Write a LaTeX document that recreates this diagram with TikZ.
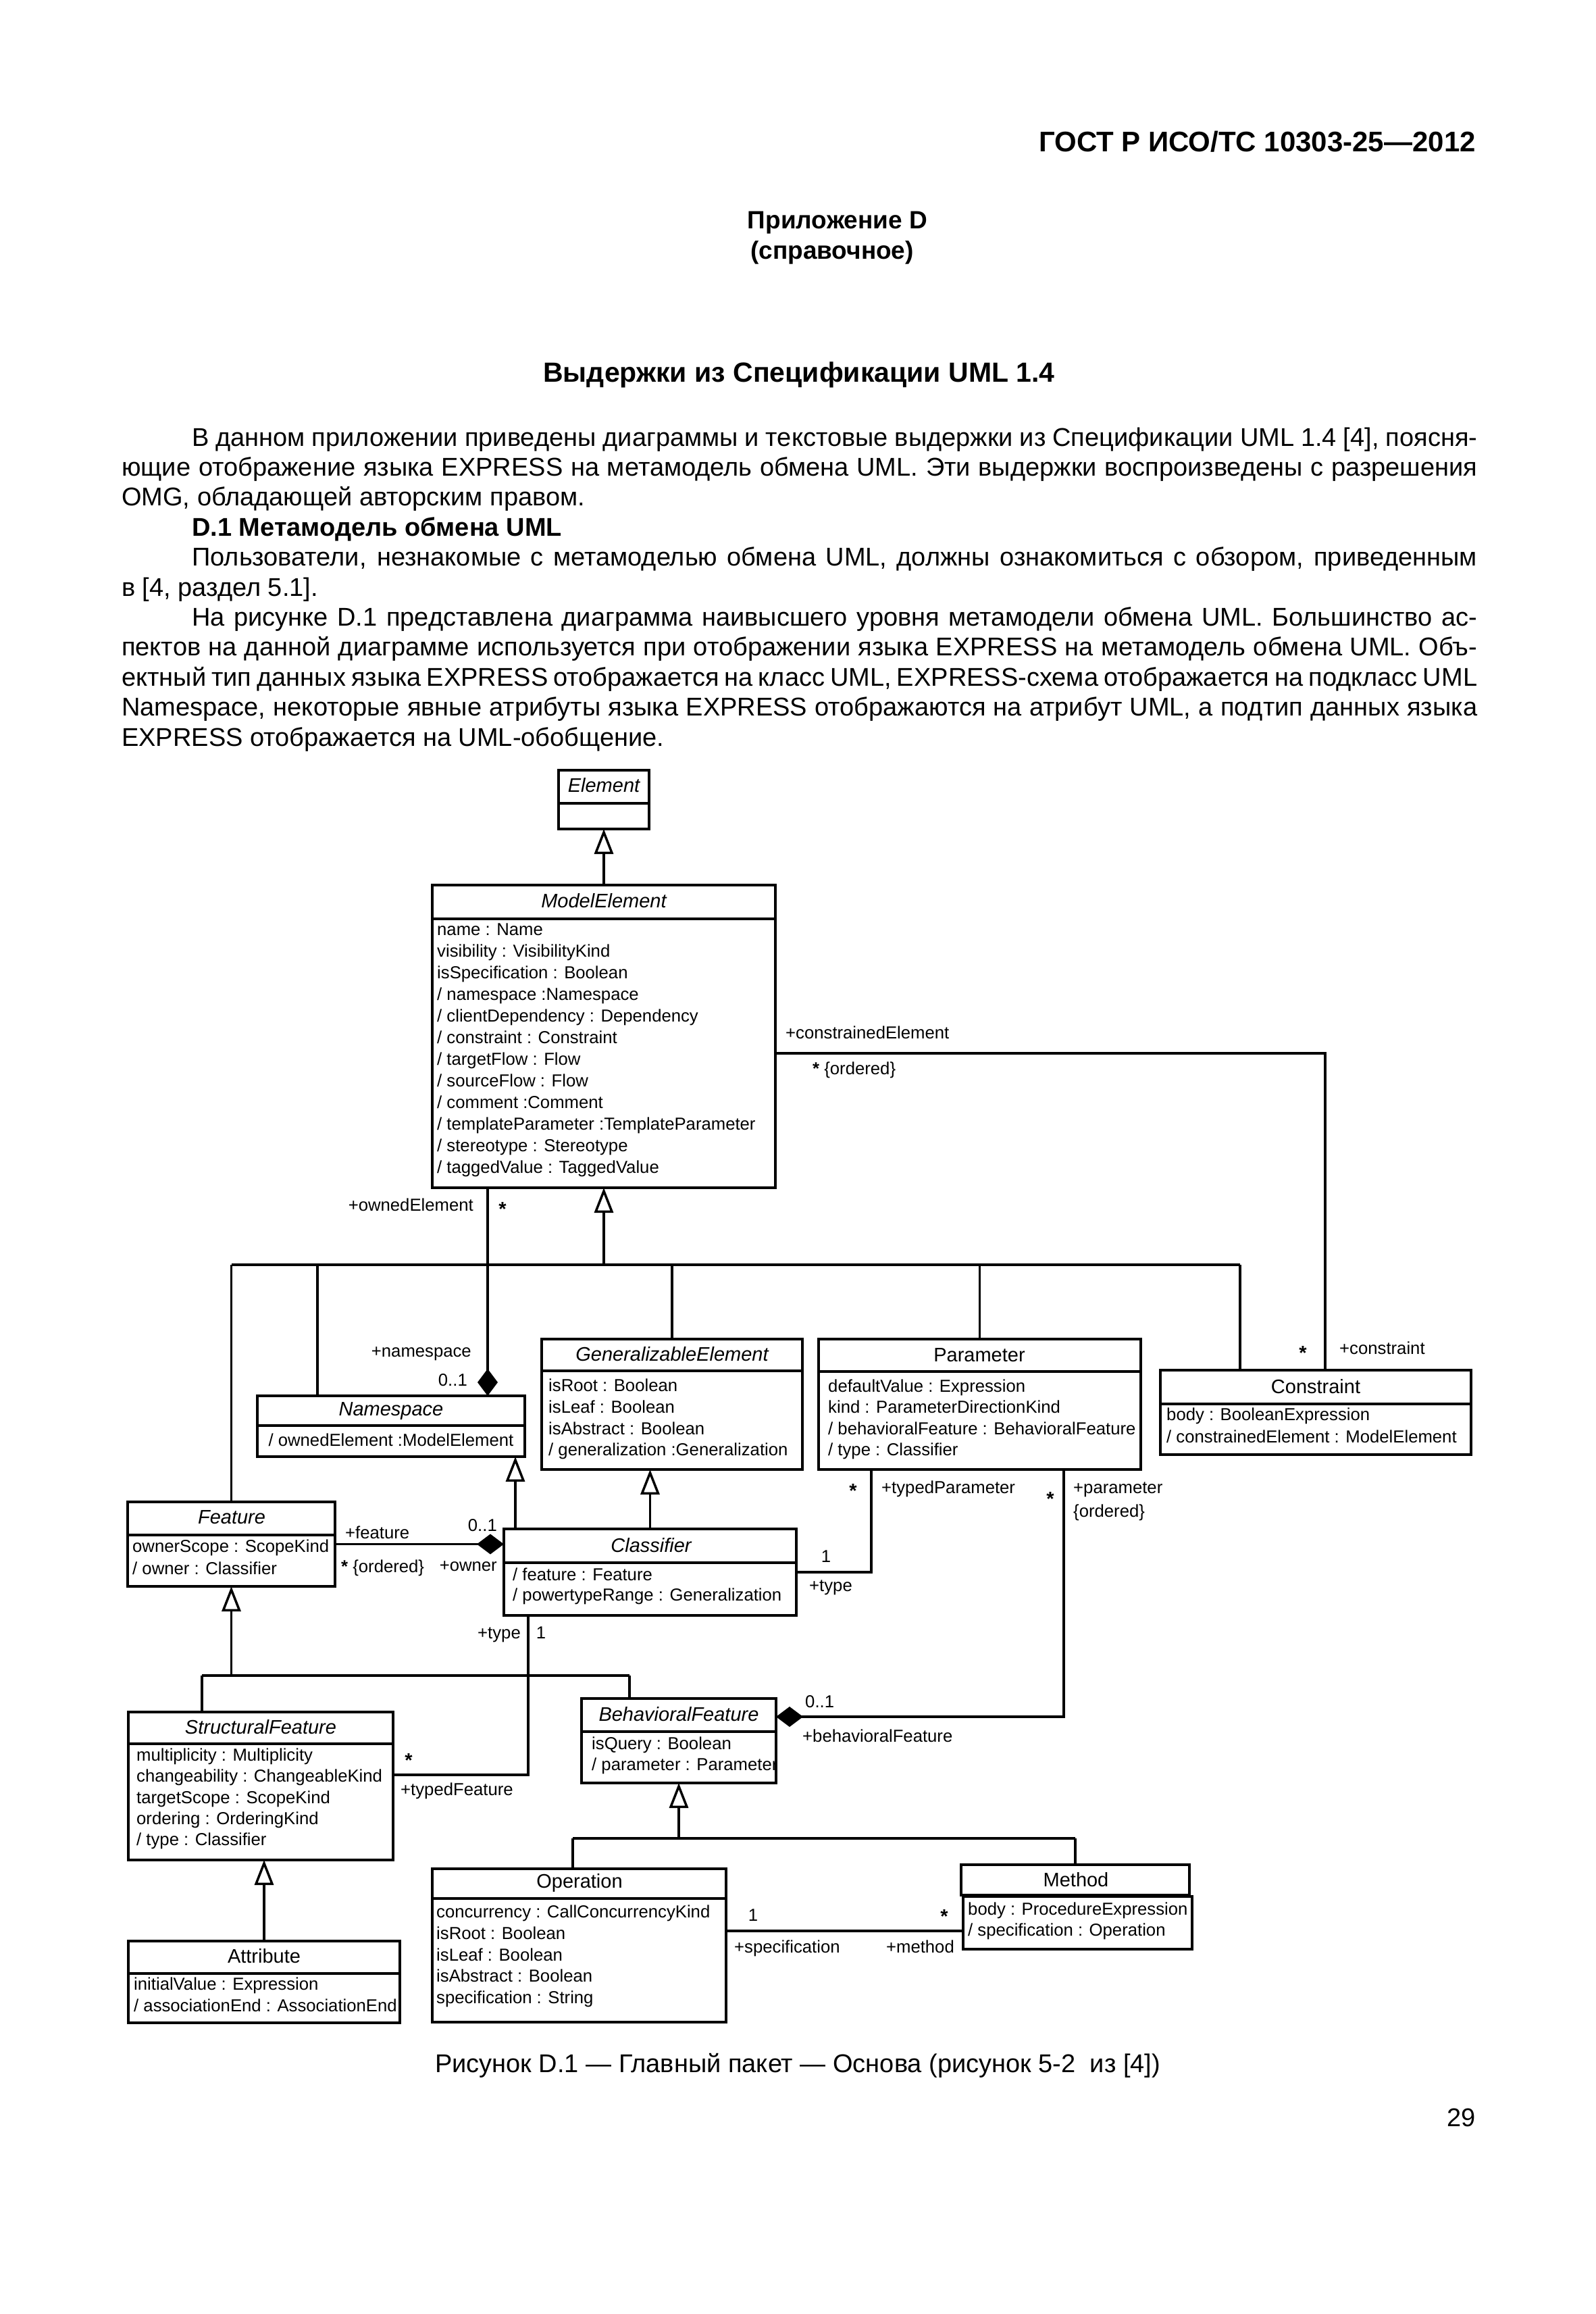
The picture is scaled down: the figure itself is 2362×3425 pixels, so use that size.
\documentclass[tikz,border=0pt]{standalone}
\usepackage{fontspec}
\setmainfont{Liberation Sans}
\usetikzlibrary{arrows.meta,calc}
\newcommand\myhdr{\fontsize{42}{50}\selectfont\bfseries}
\newcommand\myapp{\fontsize{37}{44}\selectfont\bfseries}
\newcommand\mytitle{\fontsize{41}{48}\selectfont\bfseries}
\newcommand\mybody{\fontsize{38}{44}\selectfont}
\newcommand\myattr{\fontsize{25.7}{30}\selectfont}
\newcommand\mystar{\fontsize{29}{30}\selectfont\bfseries}
\newcommand\mycls{\fontsize{29}{34}\selectfont}
\newcommand\myacls{\fontsize{29}{34}\selectfont\itshape}
\newcommand\umlbox[6]{%
  \node[umlrect,minimum width={(#4-#2)*1pt},minimum height={(#5-#3)*1pt}] (#1) at (#2,#3) {};%
  \draw[line width=4pt] (#2,#6) -- (#4,#6);}
\newcommand\attrlines[5]{%
  \foreach \t [count=\i] in {#5} {\node[attr] (#1\i) at (#2,{#3+(\i-1)*#4}) {\t};}}
\begin{document}
\begin{tikzpicture}[x=1pt,y=-1pt,
  umlrect/.style={draw,line width=4pt,inner sep=0pt,outer sep=0pt,anchor=north west},
  conn/.style={line width=3.5pt},
  gen/.style={conn,-{Triangle[open,length=37pt,width=28pt]}},
  comp/.style={conn,-{Diamond[length=40pt,width=30pt]}},
  attr/.style={anchor=mid west,inner sep=0pt,font=\myattr,yshift=-5pt},
  cls/.style={anchor=mid,inner sep=0pt,font=\mycls,yshift=-5pt},
  acls/.style={anchor=mid,inner sep=0pt,font=\myacls,yshift=-5pt},
  lbl/.style={inner sep=0pt,font=\myattr,yshift=-4pt},
  star/.style={inner sep=0pt,font=\mystar,anchor=base,yshift=1pt},
  bodyl/.style={anchor=base west,inner sep=0pt,font=\mybody}]
\useasboundingbox (0,0) rectangle (2362,3425);
\fill[white] (0,0) rectangle (2362,3425);

% ---------- page text ----------
\node[anchor=base east,inner sep=0pt,font=\myhdr] (hdr) at (2185,225) {ГОСТ Р ИСО/ТС 10303-25—2012};
\node[anchor=base,inner sep=0pt,font=\myapp] (app) at (1240,338) {Приложение D};
\node[anchor=base,inner sep=0pt,font=\myapp] (refn) at (1232,383) {(справочное)};
\node[anchor=base,inner sep=0pt,font=\mytitle] (ttl) at (1183,565) {Выдержки из Спецификации UML 1.4};

\node[bodyl] (b1) at (284,660) {\makebox[1903pt][s]{В данном приложении приведены диаграммы и текстовые выдержки из Спецификации UML 1.4 [4], поясня-}};
\node[bodyl] (b2) at (180,704.4) {\makebox[2007pt][s]{ющие отображение языка EXPRESS на метамодель обмена UML. Эти выдержки воспроизведены с разрешения}};
\node[bodyl] (b3) at (180,748.8) {OMG, обладающей авторским правом.};
\node[bodyl,font=\mybody\bfseries] (b4) at (284,793.2) {D.1 Метамодель обмена UML};
\node[bodyl] (b5) at (284,837.6) {\makebox[1903pt][s]{Пользователи, незнакомые с метамоделью обмена UML, должны ознакомиться с обзором, приведенным}};
\node[bodyl] (b6) at (180,882) {в [4, раздел 5.1].};
\node[bodyl] (b7) at (284,926.4) {\makebox[1903pt][s]{На рисунке D.1 представлена диаграмма наивысшего уровня метамодели обмена UML. Большинство ас-}};
\node[bodyl] (b8) at (180,970.8) {\makebox[2007pt][s]{пектов на данной диаграмме используется при отображении языка EXPRESS на метамодель обмена UML. Объ-}};
\node[bodyl] (b9) at (180,1015.2) {\makebox[2007pt][s]{ектный тип данных языка EXPRESS отображается на класс UML, EXPRESS-схема отображается на подкласс UML}};
\node[bodyl] (b10) at (180,1059.6) {\makebox[2007pt][s]{Namespace, некоторые явные атрибуты языка EXPRESS отображаются на атрибут UML, а подтип данных языка}};
\node[bodyl] (b11) at (180,1104) {EXPRESS отображается на UML-обобщение.};

\node[anchor=base,inner sep=0pt,font=\mybody] (cap) at (1181,3067) {Рисунок D.1 — Главный пакет — Основа (рисунок 5-2\ \ из [4])};
\node[anchor=base east,inner sep=0pt,font=\mybody] (pg) at (2185,3147) {29};

% ---------- class boxes ----------
\umlbox{el}{827}{1140}{961}{1227}{1189}
\umlbox{me}{640}{1310}{1148}{1758}{1360}
\umlbox{ns}{381}{2066}{777}{2156}{2110}
\umlbox{ge}{802}{1982}{1188}{2175}{2029}
\umlbox{pa}{1212}{1982}{1689}{2175}{2030}
\umlbox{cn}{1718}{2028}{2178}{2153}{2078}
\umlbox{ft}{189}{2223}{496}{2348}{2272}
\umlbox{cs}{746}{2263}{1179}{2391}{2313}
\umlbox{sf}{190}{2534}{582}{2753}{2581}
\umlbox{bf}{861}{2514}{1149}{2639}{2563}
\umlbox{op}{640}{2766}{1075}{2993}{2810}
\umlbox{at}{190}{2873}{592}{2994}{2921}
\node[umlrect,minimum width=338pt,minimum height=45pt] (mt) at (1423,2760) {};
\node[umlrect,minimum width=339pt,minimum height=78pt] (ma) at (1426,2807) {};

% titles
\node[acls] (elT) at (894,1165) {Element};
\node[acls] (meT) at (894,1336) {ModelElement};
\node[acls] (nsT) at (579,2088) {Namespace};
\node[acls] (geT) at (995,2007) {GeneralizableElement};
\node[cls] (paT) at (1450,2008) {Parameter};
\node[cls] (cnT) at (1948,2055) {Constraint};
\node[acls] (ftT) at (343,2248) {Feature};
\node[acls] (csT) at (964,2290) {Classifier};
\node[acls] (sfT) at (386,2559) {StructuralFeature};
\node[acls] (bfT) at (1005,2540) {BehavioralFeature};
\node[cls] (opT) at (858,2787) {Operation};
\node[cls] (mtT) at (1593,2785) {Method};
\node[cls] (atT) at (391,2898) {Attribute};

% attributes
\attrlines{meA}{647}{1377}{32}{name : Name,visibility : VisibilityKind,isSpecification : Boolean,/ namespace :Namespace,/ clientDependency : Dependency,/ constraint : Constraint,/ targetFlow : Flow,/ sourceFlow : Flow,/ comment :Comment,/ templateParameter :TemplateParameter,/ stereotype : Stereotype,/ taggedValue : TaggedValue}
\node[attr,anchor=mid] (nsA1) at (579,2133) {/ ownedElement :ModelElement};
\attrlines{geA}{812}{2052}{31.7}{isRoot : Boolean,isLeaf : Boolean,isAbstract : Boolean,/ generalization :Generalization}
\attrlines{paA}{1226}{2053}{31.3}{defaultValue : Expression,kind : ParameterDirectionKind,/ behavioralFeature : BehavioralFeature,/ type : Classifier}
\attrlines{cnA}{1727}{2095}{33}{body : BooleanExpression,/ constrainedElement : ModelElement}
\attrlines{ftA}{196}{2290}{33}{ownerScope : ScopeKind,/ owner : Classifier}
\attrlines{csA}{759}{2332}{30}{/ feature : Feature,/ powertypeRange : Generalization}
\attrlines{sfA}{202}{2599}{31.3}{multiplicity : Multiplicity,changeability : ChangeableKind,targetScope : ScopeKind,ordering : OrderingKind,/ type : Classifier}
\begin{scope}
\clip (bf.north west) rectangle (bf.south east);
\attrlines{bfA}{876}{2582}{31}{isQuery : Boolean,/ parameter : Parameter}
\end{scope}
\attrlines{opA}{646}{2831}{31.75}{concurrency : CallConcurrencyKind,isRoot : Boolean,isLeaf : Boolean,isAbstract : Boolean,specification : String}
\attrlines{mtA}{1433}{2827}{31}{body : ProcedureExpression,/ specification : Operation}
\attrlines{atA}{198}{2938}{32}{initialValue : Expression,/ associationEnd : AssociationEnd}

% ---------- connector attach points ----------
\coordinate (busy) at (0,1872);
\coordinate (bus2y) at (0,2480);
\coordinate (bus3y) at (0,2721);
\coordinate (nsb) at ($(ns.north west)+(89,0)$);
\coordinate (cnb) at ($(cn.north west)+(118,0)$);
\coordinate (cnc) at ($(cn.north west)+(244,0)$);
\coordinate (ome) at ($(me.south west)+(82,0)$);
\coordinate (cme) at ($(me.north east)+(0,249)$);
\coordinate (csn) at ($(cs.north west)+(17,0)$);
\coordinate (pab) at ($(pa.south west)+(78,0)$);
\coordinate (pbf) at ($(pa.south west)+(363,0)$);
\coordinate (bfe) at ($(bf.north east)+(0,27)$);
\coordinate (sfb) at ($(sf.north west)+(109,0)$);
\coordinate (bfb) at ($(bf.north west)+(71,0)$);
\coordinate (csb) at ($(cs.south west)+(36,0)$);
\coordinate (sfe) at ($(sf.north east)+(0,93)$);
\coordinate (opb) at ($(op.north west)+(208,0)$);
\coordinate (opm) at ($(op.north east)+(0,92)$);

% ---------- connectors ----------
\draw[gen] (me.north) -- (el.south);
\draw[conn] (ft.north |- busy) -- (cnb |- busy);
\draw[gen] (me.south |- busy) -- (me.south);
\draw[conn] (ft.north) -- (ft.north |- busy);
\draw[conn] (nsb) -- (nsb |- busy);
\draw[conn] (ge.north) -- (ge.north |- busy);
\draw[conn] (pa.north) -- (pa.north |- busy);
\draw[conn] (cnb) -- (cnb |- busy);
\draw[comp] (ome) -- (ome |- ns.north);
\draw[conn] (cme) -| (cnc);
\draw[gen] (csn) -- (csn |- ns.south);
\draw[gen] (cs.north) -- (cs.north |- ge.south);
\draw[comp] (ft.east) -- (ft.east -| cs.west);
\draw[conn] (pab) |- (cs.east);
\draw[comp] (pbf) |- (bfe);
\draw[gen] (ft.south |- bus2y) -- (ft.south);
\draw[conn] (sfb |- bus2y) -- (bfb |- bus2y);
\draw[conn] (sfb) -- (sfb |- bus2y);
\draw[conn] (bfb) -- (bfb |- bus2y);
\draw[conn] (csb) |- (sfe);
\draw[gen] (at.north) -- (at.north |- sf.south);
\draw[gen] (bf.south |- bus3y) -- (bf.south);
\draw[conn] (opb |- bus3y) -- (mt.north |- bus3y);
\draw[conn] (opb) -- (opb |- bus3y);
\draw[conn] (mt.north) -- (mt.north |- bus3y);
\draw[conn] (opm) -- (opm -| ma.west);

% ---------- role labels ----------
\node[lbl,anchor=mid east] (r1) at (701,1786) {+ownedElement};
\node[star] (r2) at (744,1800) {*};
\node[lbl,anchor=mid east] (r3) at (698,2002) {+namespace};
\node[lbl,anchor=mid east] (r4) at (692,2045) {0..1};
\node[lbl,anchor=mid west] (r5) at (1163,1531) {+constrainedElement};
\node[lbl,anchor=mid west] (r6) at (1203,1584) {\textbf{*} \{ordered\}};
\node[star] (r7) at (1929,2013) {*};
\node[lbl,anchor=mid west] (r8) at (1983,1998) {+constraint};
\node[lbl,anchor=mid west] (r9) at (511,2271) {+feature};
\node[lbl,anchor=mid west] (r10) at (505,2321) {\textbf{*} \{ordered\}};
\node[lbl,anchor=mid east] (r11) at (736,2260) {0..1};
\node[lbl,anchor=mid east] (r12) at (736,2319) {+owner};
\node[star] (r13) at (1263,2217) {*};
\node[lbl,anchor=mid west] (r14) at (1305,2204) {+typedParameter};
\node[lbl,anchor=mid] (r15) at (1223,2306) {1};
\node[lbl,anchor=mid west] (r16) at (1198,2349) {+type};
\node[star] (r17) at (1555,2229) {*};
\node[lbl,anchor=mid west] (r18) at (1589,2204) {+parameter};
\node[lbl,anchor=mid west] (r19) at (1589,2239) {\{ordered\}};
\node[lbl,anchor=mid west] (r20) at (1192,2521) {0..1};
\node[lbl,anchor=mid west] (r21) at (1188,2572) {+behavioralFeature};
\node[lbl,anchor=mid east] (r22) at (771,2419) {+type};
\node[lbl,anchor=mid] (r23) at (801,2419) {1};
\node[star] (r24) at (605,2616) {*};
\node[lbl,anchor=mid west] (r25) at (593,2651) {+typedFeature};
\node[lbl,anchor=mid] (r26) at (1115,2837) {1};
\node[star] (r27) at (1398,2847) {*};
\node[lbl,anchor=mid west] (r28) at (1087,2884) {+specification};
\node[lbl,anchor=mid east] (r29) at (1413,2884) {+method};
\end{tikzpicture}
\end{document}
